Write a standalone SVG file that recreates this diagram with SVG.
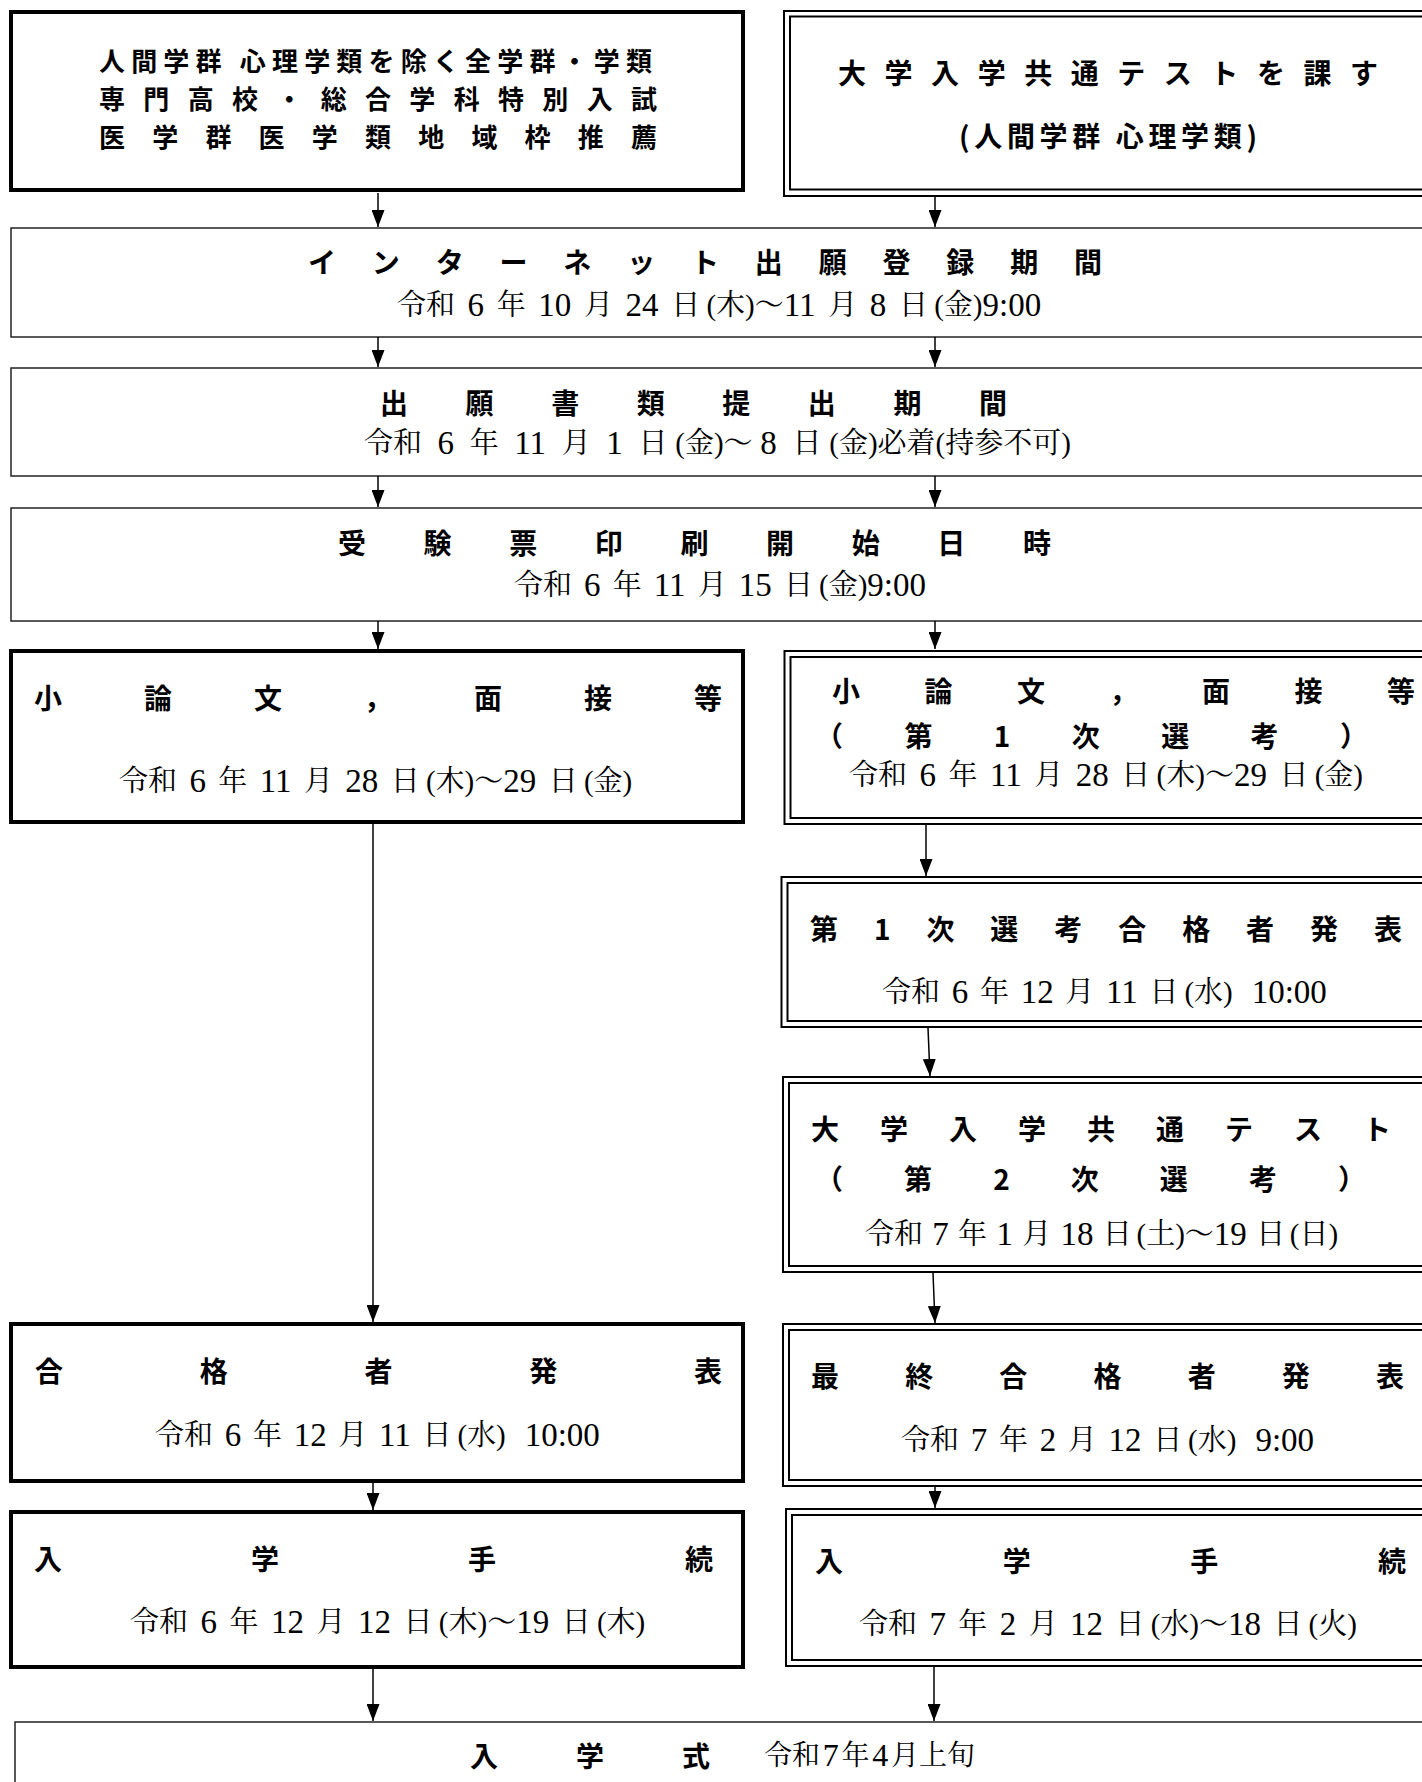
<svg xmlns="http://www.w3.org/2000/svg" width="1422" height="1782" viewBox="0 0 1422 1782">
<style>
.bg{fill:#fff}
.thick{fill:none;stroke:#000;stroke-width:4}
.thin{fill:none;stroke:#222;stroke-width:1.5}
.dblo{fill:none;stroke:#000;stroke-width:2}
.dbli{fill:none;stroke:#000;stroke-width:2}
.h{font-family:"Noto Sans CJK JP","Noto Sans CJK SC",sans-serif;font-weight:bold;font-size:28px;fill:#000;dominant-baseline:central}
.h2{font-size:26px}
.d{font-family:"Liberation Serif","Noto Serif CJK JP","Noto Sans CJK JP",serif;font-size:29px;fill:#000;dominant-baseline:central}
.n{font-size:33px}
.conn line{stroke:#000;stroke-width:1.5;marker-end:url(#ah)}
</style>
<defs>
<marker id="ah" markerUnits="userSpaceOnUse" viewBox="0 0 17 13" refX="17" refY="6.5" markerWidth="17" markerHeight="13" orient="auto">
<path d="M0,0 L17,6.5 L0,13 z" fill="#000"/>
</marker>
</defs>
<rect class="bg" x="0" y="0" width="1422" height="1782"/>

<g id="n-top-left">
<rect class="thick" x="11" y="12" width="732" height="178"/>
<text class="h h2" x="99" y="59" textLength="553" lengthAdjust="spacing">人間学群 心理学類を除く全学群・学類</text>
<text class="h h2" x="99" y="97" textLength="558" lengthAdjust="spacing">専門高校・総合学科特別入試</text>
<text class="h h2" x="99" y="135" textLength="558" lengthAdjust="spacing">医学群医学類地域枠推薦</text>
</g>

<g id="n-top-right">
<rect class="dblo" x="784" y="11" width="700" height="185"/>
<rect class="dbli" x="790" y="16.5" width="700" height="173"/>
<text class="h" x="838" y="72" textLength="540" lengthAdjust="spacing">大学入学共通テストを課す</text>
<text class="h" x="959" y="135" textLength="298" lengthAdjust="spacing">(人間学群 心理学類)</text>
</g>

<g id="n-internet">
<rect class="thin" x="11" y="228" width="1430" height="109"/>
<text class="h" x="308" y="261" textLength="794" lengthAdjust="spacing">インターネット出願登録期間</text>
<text class="d" x="397" y="305">令和<tspan class="n" dx="12.6">6</tspan><tspan dx="12.6">年</tspan><tspan class="n" dx="12.6">10</tspan><tspan dx="12.6">月</tspan><tspan class="n" dx="12.6">24</tspan><tspan dx="12.6">日</tspan><tspan dx="6.3">(木)～</tspan><tspan class="n">11</tspan><tspan dx="12.6">月</tspan><tspan class="n" dx="12.6">8</tspan><tspan dx="12.6">日</tspan><tspan dx="6.3">(金)</tspan><tspan class="n">9:00</tspan></text>
</g>

<g id="n-documents">
<rect class="thin" x="11" y="368" width="1430" height="108"/>
<text class="h" x="380" y="402" textLength="627" lengthAdjust="spacing">出願書類提出期間</text>
<text class="d" x="364" y="443">令和<tspan class="n" dx="15.6">6</tspan><tspan dx="15.6">年</tspan><tspan class="n" dx="15.6">11</tspan><tspan dx="15.6">月</tspan><tspan class="n" dx="15.6">1</tspan><tspan dx="15.6">日</tspan><tspan dx="7.8">(金)～</tspan><tspan class="n" dx="7.8">8</tspan><tspan dx="15.6">日</tspan><tspan dx="7.8">(金)必着(持参不可)</tspan></text>
</g>

<g id="n-ticket">
<rect class="thin" x="11" y="508" width="1430" height="113"/>
<text class="h" x="338" y="542" textLength="713" lengthAdjust="spacing">受験票印刷開始日時</text>
<text class="d" x="514" y="585">令和<tspan class="n" dx="12.1">6</tspan><tspan dx="12.1">年</tspan><tspan class="n" dx="12.1">11</tspan><tspan dx="12.1">月</tspan><tspan class="n" dx="12.1">15</tspan><tspan dx="12.1">日</tspan><tspan dx="6.05">(金)</tspan><tspan class="n">9:00</tspan></text>
</g>

<g id="n-essay-left">
<rect class="thick" x="11" y="651" width="732" height="171"/>
<text class="h" x="34" y="697" textLength="688" lengthAdjust="spacing">小論文，面接等</text>
<text class="d" x="119" y="781">令和<tspan class="n" dx="12.4">6</tspan><tspan dx="12.4">年</tspan><tspan class="n" dx="12.4">11</tspan><tspan dx="12.4">月</tspan><tspan class="n" dx="12.4">28</tspan><tspan dx="12.4">日</tspan><tspan dx="6.2">(木)～</tspan><tspan class="n">29</tspan><tspan dx="12.4">日</tspan><tspan dx="6.2">(金)</tspan></text>
</g>

<g id="n-essay-right">
<rect class="dblo" x="784.5" y="651" width="700" height="173"/>
<rect class="dbli" x="790.5" y="657" width="700" height="161"/>
<text class="h" x="832" y="690" textLength="583" lengthAdjust="spacing">小論文，面接等</text>
<text class="h" x="815" y="735" textLength="553" lengthAdjust="spacing">（第1次選考）</text>
<text class="d" x="849" y="775">令和<tspan class="n" dx="12.5">6</tspan><tspan dx="12.5">年</tspan><tspan class="n" dx="12.5">11</tspan><tspan dx="12.5">月</tspan><tspan class="n" dx="12.5">28</tspan><tspan dx="12.5">日</tspan><tspan dx="6.25">(木)～</tspan><tspan class="n">29</tspan><tspan dx="12.5">日</tspan><tspan dx="6.25">(金)</tspan></text>
</g>

<g id="n-first-pass">
<rect class="dblo" x="781.5" y="877" width="700" height="150"/>
<rect class="dbli" x="787.5" y="883" width="700" height="138"/>
<text class="h" x="810" y="928" textLength="592" lengthAdjust="spacing">第1次選考合格者発表</text>
<text class="d" x="882" y="992">令和<tspan class="n" dx="11.7">6</tspan><tspan dx="11.7">年</tspan><tspan class="n" dx="11.7">12</tspan><tspan dx="11.7">月</tspan><tspan class="n" dx="11.7">11</tspan><tspan dx="11.7">日</tspan><tspan dx="5.85">(水) </tspan><tspan class="n" dx="11.7">10:00</tspan></text>
</g>

<g id="n-common-test">
<rect class="dblo" x="783" y="1077" width="700" height="195"/>
<rect class="dbli" x="789" y="1083" width="700" height="183"/>
<text class="h" x="811" y="1128" textLength="580" lengthAdjust="spacing">大学入学共通テスト</text>
<text class="h" x="815" y="1178" textLength="551" lengthAdjust="spacing">（第2次選考）</text>
<text class="d" x="865" y="1234">令和<tspan class="n" dx="9.3">7</tspan><tspan dx="9.3">年</tspan><tspan class="n" dx="9.3">1</tspan><tspan dx="9.3">月</tspan><tspan class="n" dx="9.3">18</tspan><tspan dx="9.3">日</tspan><tspan dx="4.65">(土)～</tspan><tspan class="n">19</tspan><tspan dx="9.3">日</tspan><tspan dx="4.65">(日)</tspan></text>
</g>

<g id="n-pass-left">
<rect class="thick" x="11" y="1324" width="732" height="157"/>
<text class="h" x="35" y="1370" textLength="687" lengthAdjust="spacing">合格者発表</text>
<text class="d" x="155" y="1435">令和<tspan class="n" dx="11.7">6</tspan><tspan dx="11.7">年</tspan><tspan class="n" dx="11.7">12</tspan><tspan dx="11.7">月</tspan><tspan class="n" dx="11.7">11</tspan><tspan dx="11.7">日</tspan><tspan dx="5.85">(水) </tspan><tspan class="n" dx="11.7">10:00</tspan></text>
</g>

<g id="n-final-pass">
<rect class="dblo" x="783" y="1324" width="700" height="162"/>
<rect class="dbli" x="789" y="1330" width="700" height="150"/>
<text class="h" x="811" y="1375" textLength="593" lengthAdjust="spacing">最終合格者発表</text>
<text class="d" x="901" y="1440">令和<tspan class="n" dx="11.7">7</tspan><tspan dx="11.7">年</tspan><tspan class="n" dx="11.7">2</tspan><tspan dx="11.7">月</tspan><tspan class="n" dx="11.7">12</tspan><tspan dx="11.7">日</tspan><tspan dx="5.85">(水) </tspan><tspan class="n" dx="11.7">9:00</tspan></text>
</g>

<g id="n-enroll-left">
<rect class="thick" x="11" y="1512" width="732" height="155"/>
<text class="h" x="34" y="1558" textLength="679" lengthAdjust="spacing">入学手続</text>
<text class="d" x="130" y="1622">令和<tspan class="n" dx="12.5">6</tspan><tspan dx="12.5">年</tspan><tspan class="n" dx="12.5">12</tspan><tspan dx="12.5">月</tspan><tspan class="n" dx="12.5">12</tspan><tspan dx="12.5">日</tspan><tspan dx="6.25">(木)～</tspan><tspan class="n">19</tspan><tspan dx="12.5">日</tspan><tspan dx="6.25">(木)</tspan></text>
</g>

<g id="n-enroll-right">
<rect class="dblo" x="786" y="1509" width="700" height="157"/>
<rect class="dbli" x="792" y="1515" width="700" height="145"/>
<text class="h" x="815" y="1560" textLength="591" lengthAdjust="spacing">入学手続</text>
<text class="d" x="859" y="1624">令和<tspan class="n" dx="12.4">7</tspan><tspan dx="12.4">年</tspan><tspan class="n" dx="12.4">2</tspan><tspan dx="12.4">月</tspan><tspan class="n" dx="12.4">12</tspan><tspan dx="12.4">日</tspan><tspan dx="6.2">(水)～</tspan><tspan class="n">18</tspan><tspan dx="12.4">日</tspan><tspan dx="6.2">(火)</tspan></text>
</g>

<g id="n-ceremony">
<rect class="thin" x="15" y="1722" width="1430" height="100"/>
<text class="h" x="470" y="1755" textLength="240" lengthAdjust="spacing">入学式</text>
<text class="d" x="764" y="1755" style="font-size:28px">令和<tspan style="font-size:32px" dx="2.75">7</tspan><tspan dx="2.75">年</tspan><tspan style="font-size:32px" dx="2.75">4</tspan><tspan dx="2.75">月上旬</tspan></text>
</g>

<g id="connectors" class="conn">
<line x1="378" y1="193" x2="378" y2="227"/>
<line x1="935" y1="197" x2="935" y2="227"/>
<line x1="378" y1="337" x2="378" y2="367"/>
<line x1="935" y1="337" x2="935" y2="367"/>
<line x1="378" y1="476" x2="378" y2="507"/>
<line x1="935" y1="476" x2="935" y2="507"/>
<line x1="378" y1="621" x2="378" y2="649"/>
<line x1="935" y1="621" x2="935" y2="649"/>
<line x1="373" y1="824" x2="373" y2="1322"/>
<line x1="926" y1="825" x2="926" y2="876"/>
<line x1="928" y1="1028" x2="930" y2="1076"/>
<line x1="933" y1="1273" x2="935" y2="1323"/>
<line x1="373" y1="1483" x2="373" y2="1510"/>
<line x1="935" y1="1487" x2="935" y2="1508"/>
<line x1="373" y1="1669" x2="373" y2="1721"/>
<line x1="934" y1="1667" x2="934" y2="1721"/>
</g>
</svg>
